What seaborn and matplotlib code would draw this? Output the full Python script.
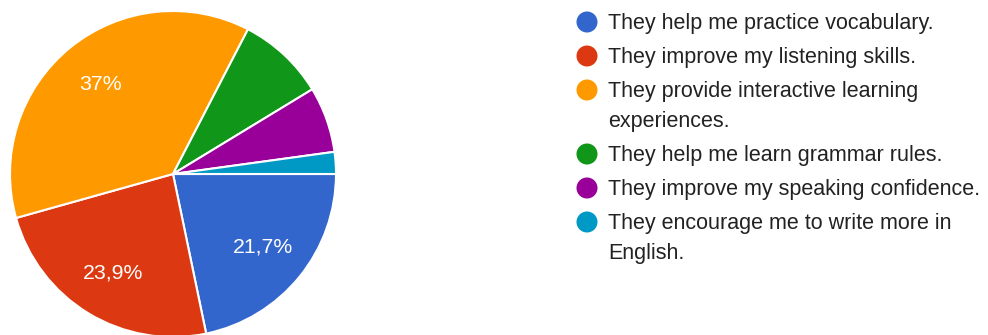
import matplotlib
matplotlib.use("Agg")
import matplotlib.pyplot as plt
import seaborn as sns

categories = [
    "They help me practice vocabulary.",
    "They improve my listening skills.",
    "They provide interactive learning\nexperiences.",
    "They help me learn grammar rules.",
    "They improve my speaking confidence.",
    "They encourage me to write more in\nEnglish.",
]
counts = [10, 11, 17, 4, 3, 1]
colors = ["#3366CC", "#DC3912", "#FF9900", "#109618", "#990099", "#0099C6"]

sns.set_theme(style="white")
plt.rcParams["font.family"] = ["Liberation Sans", "DejaVu Sans"]

W, H = 988, 335
fig = plt.figure(figsize=(W / 100, H / 100), dpi=100)

cx, cy, r = 173, 174, 163
ax = fig.add_axes([(cx - r) / W, (H - cy - r) / H, 2 * r / W, 2 * r / H])


def fmt(p):
    if p < 10:
        return ""
    s = f"{p:.1f}".replace(".", ",")
    if s.endswith(",0"):
        s = s[:-2]
    return s + "%"


wedges, texts, autotexts = ax.pie(
    counts, colors=sns.color_palette(colors), startangle=0, counterclock=False,
    autopct=fmt, pctdistance=0.71, radius=1,
    wedgeprops=dict(edgecolor="white", linewidth=1.5),
    textprops=dict(color="white", fontsize=15.3),
)
ax.set_xlim(-1, 1)
ax.set_ylim(-1, 1)
ax.set_aspect("equal")
ax.axis("off")

# legend
lax = fig.add_axes([0, 0, 1, 1])
lax.set_xlim(0, W)
lax.set_ylim(H, 0)
lax.axis("off")
y = 22
for lab, col in zip(categories, colors):
    lax.scatter([587], [y], s=229, color=col, edgecolor="none")
    for i, line in enumerate(lab.split("\n")):
        lax.text(608, y + 1 + i * 30, line, va="center", ha="left",
                 fontsize=15.5, color="#222222")
    y += 34 + 30 * (len(lab.split("\n")) - 1)

fig.savefig("out.png", dpi=100, facecolor="white")
